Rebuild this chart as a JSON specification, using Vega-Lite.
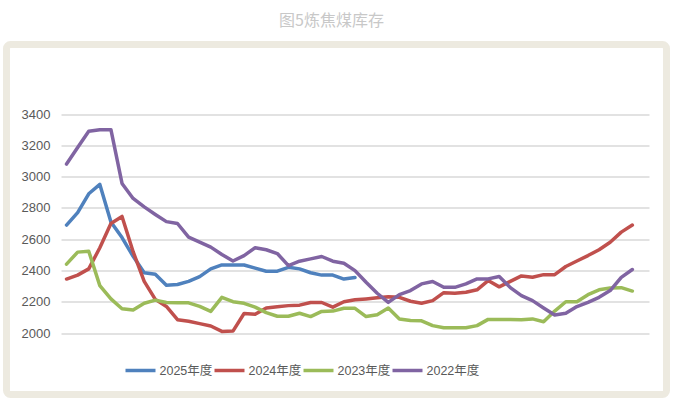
{
  "$schema": "https://vega.github.io/schema/vega-lite/v6.json",
  "width": 660,
  "height": 350,
  "autosize": {"type": "none"},
  "padding": {"left": 6.5, "top": 44.5, "right": 8.5, "bottom": 3.5},
  "background": "white",
  "title": {"text": "图5炼焦煤库存", "fontSize": 16, "color": "#C8C8C8", "font": "Noto Sans CJK SC", "fontWeight": "normal", "offset": 16, "frame": "group", "anchor": "middle", "dx": -5},
  "config": {
    "view": {"stroke": "#EDEAE0", "strokeWidth": 7, "cornerRadius": 4, "fill": "white"},
    "font": "Liberation Sans, Noto Sans CJK SC"
  },
  "data": {"values": [
    {"week":1,"series":"2025年度","value":2690},{"week":2,"series":"2025年度","value":2770},{"week":3,"series":"2025年度","value":2890},{"week":4,"series":"2025年度","value":2950},{"week":5,"series":"2025年度","value":2710},{"week":6,"series":"2025年度","value":2610},{"week":7,"series":"2025年度","value":2490},{"week":8,"series":"2025年度","value":2385},{"week":9,"series":"2025年度","value":2375},{"week":10,"series":"2025年度","value":2305},{"week":11,"series":"2025年度","value":2310},{"week":12,"series":"2025年度","value":2330},{"week":13,"series":"2025年度","value":2360},{"week":14,"series":"2025年度","value":2410},{"week":15,"series":"2025年度","value":2435},{"week":16,"series":"2025年度","value":2435},{"week":17,"series":"2025年度","value":2435},{"week":18,"series":"2025年度","value":2415},{"week":19,"series":"2025年度","value":2395},{"week":20,"series":"2025年度","value":2395},{"week":21,"series":"2025年度","value":2420},{"week":22,"series":"2025年度","value":2410},{"week":23,"series":"2025年度","value":2385},{"week":24,"series":"2025年度","value":2370},{"week":25,"series":"2025年度","value":2370},{"week":26,"series":"2025年度","value":2345},{"week":27,"series":"2025年度","value":2355},
    {"week":1,"series":"2024年度","value":2345},{"week":2,"series":"2024年度","value":2370},{"week":3,"series":"2024年度","value":2410},{"week":4,"series":"2024年度","value":2545},{"week":5,"series":"2024年度","value":2700},{"week":6,"series":"2024年度","value":2745},{"week":7,"series":"2024年度","value":2520},{"week":8,"series":"2024年度","value":2330},{"week":9,"series":"2024年度","value":2215},{"week":10,"series":"2024年度","value":2170},{"week":11,"series":"2024年度","value":2085},{"week":12,"series":"2024年度","value":2075},{"week":13,"series":"2024年度","value":2060},{"week":14,"series":"2024年度","value":2045},{"week":15,"series":"2024年度","value":2010},{"week":16,"series":"2024年度","value":2012},{"week":17,"series":"2024年度","value":2125},{"week":18,"series":"2024年度","value":2120},{"week":19,"series":"2024年度","value":2160},{"week":20,"series":"2024年度","value":2168},{"week":21,"series":"2024年度","value":2175},{"week":22,"series":"2024年度","value":2178},{"week":23,"series":"2024年度","value":2195},{"week":24,"series":"2024年度","value":2195},{"week":25,"series":"2024年度","value":2165},{"week":26,"series":"2024年度","value":2200},{"week":27,"series":"2024年度","value":2212},{"week":28,"series":"2024年度","value":2218},{"week":29,"series":"2024年度","value":2225},{"week":30,"series":"2024年度","value":2232},{"week":31,"series":"2024年度","value":2228},{"week":32,"series":"2024年度","value":2203},{"week":33,"series":"2024年度","value":2190},{"week":34,"series":"2024年度","value":2207},{"week":35,"series":"2024年度","value":2258},{"week":36,"series":"2024年度","value":2254},{"week":37,"series":"2024年度","value":2260},{"week":38,"series":"2024年度","value":2276},{"week":39,"series":"2024年度","value":2335},{"week":40,"series":"2024年度","value":2295},{"week":41,"series":"2024年度","value":2330},{"week":42,"series":"2024年度","value":2365},{"week":43,"series":"2024年度","value":2356},{"week":44,"series":"2024年度","value":2373},{"week":45,"series":"2024年度","value":2373},{"week":46,"series":"2024年度","value":2425},{"week":47,"series":"2024年度","value":2460},{"week":48,"series":"2024年度","value":2495},{"week":49,"series":"2024年度","value":2532},{"week":50,"series":"2024年度","value":2580},{"week":51,"series":"2024年度","value":2645},{"week":52,"series":"2024年度","value":2690},
    {"week":1,"series":"2023年度","value":2440},{"week":2,"series":"2023年度","value":2517},{"week":3,"series":"2023年度","value":2523},{"week":4,"series":"2023年度","value":2303},{"week":5,"series":"2023年度","value":2218},{"week":6,"series":"2023年度","value":2155},{"week":7,"series":"2023年度","value":2147},{"week":8,"series":"2023年度","value":2190},{"week":9,"series":"2023年度","value":2210},{"week":10,"series":"2023年度","value":2195},{"week":11,"series":"2023年度","value":2193},{"week":12,"series":"2023年度","value":2193},{"week":13,"series":"2023年度","value":2170},{"week":14,"series":"2023年度","value":2138},{"week":15,"series":"2023年度","value":2228},{"week":16,"series":"2023年度","value":2200},{"week":17,"series":"2023年度","value":2190},{"week":18,"series":"2023年度","value":2165},{"week":19,"series":"2023年度","value":2130},{"week":20,"series":"2023年度","value":2107},{"week":21,"series":"2023年度","value":2107},{"week":22,"series":"2023年度","value":2126},{"week":23,"series":"2023年度","value":2105},{"week":24,"series":"2023年度","value":2138},{"week":25,"series":"2023年度","value":2140},{"week":26,"series":"2023年度","value":2158},{"week":27,"series":"2023年度","value":2158},{"week":28,"series":"2023年度","value":2105},{"week":29,"series":"2023年度","value":2117},{"week":30,"series":"2023年度","value":2160},{"week":31,"series":"2023年度","value":2090},{"week":32,"series":"2023年度","value":2080},{"week":33,"series":"2023年度","value":2078},{"week":34,"series":"2023年度","value":2047},{"week":35,"series":"2023年度","value":2033},{"week":36,"series":"2023年度","value":2033},{"week":37,"series":"2023年度","value":2033},{"week":38,"series":"2023年度","value":2047},{"week":39,"series":"2023年度","value":2087},{"week":40,"series":"2023年度","value":2087},{"week":41,"series":"2023年度","value":2087},{"week":42,"series":"2023年度","value":2084},{"week":43,"series":"2023年度","value":2090},{"week":44,"series":"2023年度","value":2072},{"week":45,"series":"2023年度","value":2140},{"week":46,"series":"2023年度","value":2200},{"week":47,"series":"2023年度","value":2200},{"week":48,"series":"2023年度","value":2245},{"week":49,"series":"2023年度","value":2276},{"week":50,"series":"2023年度","value":2288},{"week":51,"series":"2023年度","value":2290},{"week":52,"series":"2023年度","value":2268},
    {"week":1,"series":"2022年度","value":3080},{"week":2,"series":"2022年度","value":3186},{"week":3,"series":"2022年度","value":3290},{"week":4,"series":"2022年度","value":3300},{"week":5,"series":"2022年度","value":3300},{"week":6,"series":"2022年度","value":2956},{"week":7,"series":"2022年度","value":2860},{"week":8,"series":"2022年度","value":2806},{"week":9,"series":"2022年度","value":2758},{"week":10,"series":"2022年度","value":2712},{"week":11,"series":"2022年度","value":2700},{"week":12,"series":"2022年度","value":2613},{"week":13,"series":"2022年度","value":2581},{"week":14,"series":"2022年度","value":2549},{"week":15,"series":"2022年度","value":2502},{"week":16,"series":"2022年度","value":2460},{"week":17,"series":"2022年度","value":2495},{"week":18,"series":"2022年度","value":2545},{"week":19,"series":"2022年度","value":2532},{"week":20,"series":"2022年度","value":2508},{"week":21,"series":"2022年度","value":2431},{"week":22,"series":"2022年度","value":2459},{"week":23,"series":"2022年度","value":2474},{"week":24,"series":"2022年度","value":2489},{"week":25,"series":"2022年度","value":2459},{"week":26,"series":"2022年度","value":2446},{"week":27,"series":"2022年度","value":2399},{"week":28,"series":"2022年度","value":2324},{"week":29,"series":"2022年度","value":2254},{"week":30,"series":"2022年度","value":2196},{"week":31,"series":"2022年度","value":2245},{"week":32,"series":"2022年度","value":2271},{"week":33,"series":"2022年度","value":2314},{"week":34,"series":"2022年度","value":2329},{"week":35,"series":"2022年度","value":2292},{"week":36,"series":"2022年度","value":2292},{"week":37,"series":"2022年度","value":2314},{"week":38,"series":"2022年度","value":2346},{"week":39,"series":"2022年度","value":2346},{"week":40,"series":"2022年度","value":2361},{"week":41,"series":"2022年度","value":2290},{"week":42,"series":"2022年度","value":2239},{"week":43,"series":"2022年度","value":2207},{"week":44,"series":"2022年度","value":2160},{"week":45,"series":"2022年度","value":2115},{"week":46,"series":"2022年度","value":2126},{"week":47,"series":"2022年度","value":2169},{"week":48,"series":"2022年度","value":2196},{"week":49,"series":"2022年度","value":2228},{"week":50,"series":"2022年度","value":2271},{"week":51,"series":"2022年度","value":2356},{"week":52,"series":"2022年度","value":2406}
  ]},
  "mark": {"type": "line", "strokeWidth": 3.5, "strokeJoin": "round", "strokeCap": "round"},
  "encoding": {
    "x": {"field": "week", "type": "quantitative", "scale": {"domain": [0.5, 53.5], "range": [54.5, 642.5], "nice": false, "zero": false}, "axis": null},
    "y": {"field": "value", "type": "quantitative", "scale": {"domain": [2000, 3400], "range": [288.5, 69.5], "nice": false, "zero": false},
      "axis": {"title": null, "values": [2000, 2200, 2400, 2600, 2800, 3000, 3200, 3400], "format": "d", "domain": false, "ticks": false, "tickSize": 0, "labelPadding": 0, "offset": -43.5, "labelFontSize": 13, "labelColor": "#595959", "labelFont": "Liberation Sans", "grid": true, "gridColor": "#D9D9D9", "gridWidth": 1.5}},
    "color": {"field": "series", "type": "nominal", "sort": ["2025年度", "2024年度", "2023年度", "2022年度"],
      "scale": {"domain": ["2025年度", "2024年度", "2023年度", "2022年度"], "range": ["#4F81BD", "#C0504D", "#9BBB59", "#8064A2"]},
      "legend": {"title": null, "orient": "none", "legendX": 117, "legendY": 309, "direction": "horizontal", "gridAlign": "none", "symbolType": "stroke", "symbolSize": 900, "symbolStrokeWidth": 3.5, "labelFontSize": 12.5, "labelColor": "#595959", "labelOffset": 2, "columnPadding": -5, "padding": 0}},
    "order": {"field": "week", "type": "quantitative"}
  }
}
